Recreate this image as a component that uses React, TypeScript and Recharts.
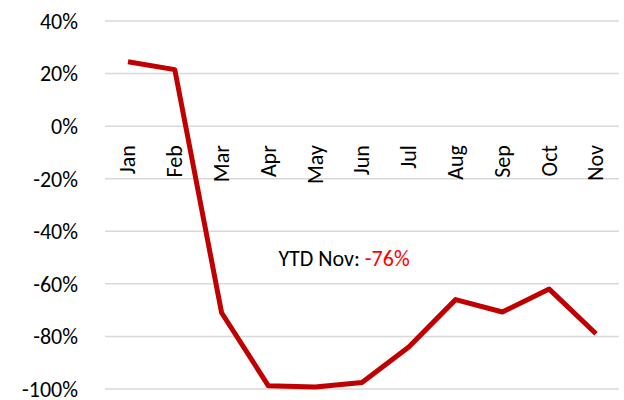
import { CartesianGrid, LabelList, Line, LineChart, ReferenceDot, XAxis, YAxis } from 'recharts';

const months = ['Jan', 'Feb', 'Mar', 'Apr', 'May', 'Jun', 'Jul', 'Aug', 'Sep', 'Oct', 'Nov'];
const changePct = [24.5, 21.5, -71, -98.8, -99.2, -97.5, -84, -66, -70.7, -62, -79];
const yTicks = [-100, -80, -60, -40, -20, 0, 20, 40];
const ytdText = 'YTD Nov: ';
const ytdValue = '-76%';

const data = months.map((month, i) => ({ month, value: changePct[i], base: 0 }));

const FONT = 'Carlito, Lato, sans-serif';
const FS = 22;

const MonthLabel = (props: any) => {
  const { x, y, value } = props;
  const ty = y + 19;
  return (
    <text
      x={x}
      y={ty}
      transform={`rotate(-90, ${x}, ${ty})`}
      textAnchor="end"
      dominantBaseline="central"
      fontSize={FS}
      fontFamily={FONT}
      fill="#000"
    >
      {value}
    </text>
  );
};

const YtdLabel = (props: any) => {
  const { viewBox } = props;
  return (
    <text x={viewBox.x + 10} y={viewBox.y} dominantBaseline="central" fontSize={FS} fontFamily={FONT} fill="#000">
      <tspan>{ytdText}</tspan>
      <tspan fill="#ff0000">{ytdValue}</tspan>
    </text>
  );
};

export default function App() {
  return (
    <div style={{ position: 'absolute', left: 0, top: 0 }}>
      <LineChart width={624} height={400} data={data} margin={{ top: 21, right: 5, left: 0, bottom: 11 }}>
        <CartesianGrid vertical={false} stroke="#d9d9d9" strokeWidth={1.5} />
        <XAxis dataKey="month" hide padding={{ left: 23, right: 23 }} />
        <YAxis
          width={105}
          domain={[-100, 40]}
          ticks={yTicks}
          interval={0}
          tickFormatter={(v) => `${v}%`}
          axisLine={false}
          tickLine={false}
          tickMargin={21}
          tick={{ fontSize: FS, fontFamily: FONT, fill: '#000' }}
        />
        <Line dataKey="base" stroke="none" dot={false} isAnimationActive={false}>
          <LabelList dataKey="month" content={MonthLabel} />
        </Line>
        <Line
          dataKey="value"
          stroke="#c00000"
          strokeWidth={5}
          strokeLinejoin="round"
          dot={false}
          isAnimationActive={false}
        />
        <ReferenceDot x="Apr" y={-50} r={0} stroke="none" fill="none" label={<YtdLabel />} />
      </LineChart>
    </div>
  );
}
